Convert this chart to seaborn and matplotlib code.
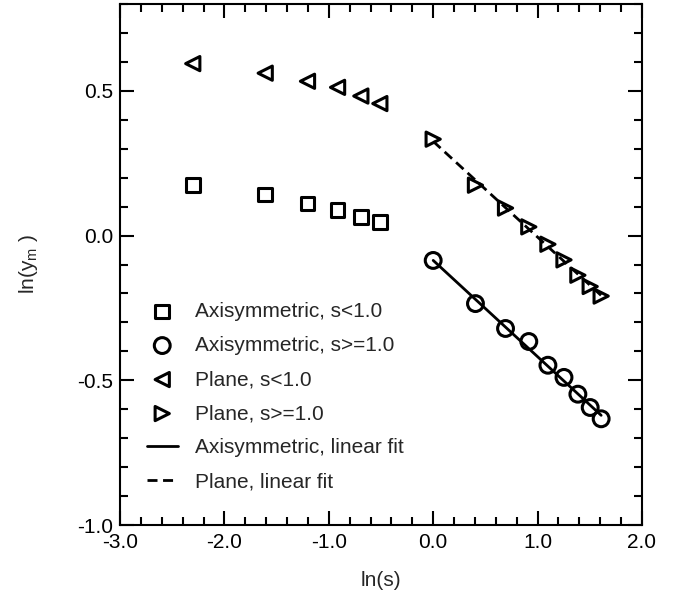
import numpy as np
import pandas as pd
import seaborn as sns
import matplotlib.pyplot as plt
from matplotlib.ticker import MultipleLocator, FormatStrFormatter

# ---- data ----
ln_s_small = [-2.303, -1.609, -1.204, -0.916, -0.693, -0.511]
ln_s_large = [0.0, 0.405, 0.693, 0.916, 1.099, 1.253, 1.386, 1.504, 1.609]

axi_small = [0.174, 0.142, 0.111, 0.089, 0.065, 0.046]
axi_large = [-0.086, -0.235, -0.321, -0.366, -0.448, -0.490, -0.548, -0.594, -0.633]
plane_small = [0.594, 0.561, 0.533, 0.512, 0.482, 0.456]
plane_large = [0.333, 0.174, 0.095, 0.030, -0.030, -0.084, -0.137, -0.176, -0.209]

sns.set_style("ticks")
plt.rcParams['font.family'] = ['Liberation Sans', 'DejaVu Sans']
plt.rcParams['axes.unicode_minus'] = False
plt.rcParams['mathtext.default'] = 'regular'

fig = plt.figure(figsize=(6.81, 5.95), dpi=100)
ax = fig.add_axes([0.1762, 0.1176, 0.7665, 0.8757])

df_small = pd.DataFrame({'ln_s': ln_s_small, 'axi': axi_small, 'plane': plane_small})
df_large = pd.DataFrame({'ln_s': ln_s_large, 'axi': axi_large, 'plane': plane_large})

mk = dict(facecolor='none', edgecolor='black', linewidth=2.2, zorder=3)
sns.scatterplot(data=df_small, x='ln_s', y='axi', marker='s', s=95, ax=ax,
                label='Axisymmetric, s<1.0', **mk)
sns.scatterplot(data=df_large, x='ln_s', y='axi', marker='o', s=130, ax=ax,
                label='Axisymmetric, s>=1.0', **mk)
sns.scatterplot(data=df_small, x='ln_s', y='plane', marker='<', s=105, ax=ax,
                label='Plane, s<1.0', **mk)
sns.scatterplot(data=df_large, x='ln_s', y='plane', marker='>', s=105, ax=ax,
                label='Plane, s>=1.0', **mk)

# linear fits through the s>=1 points
sns.regplot(data=df_large, x='ln_s', y='axi', ax=ax, scatter=False, ci=None,
            truncate=True, color='black', label='Axisymmetric, linear fit',
            line_kws=dict(lw=2.0))
sns.regplot(data=df_large, x='ln_s', y='plane', ax=ax, scatter=False, ci=None,
            truncate=True, color='black', label='Plane, linear fit',
            line_kws=dict(lw=2.0, ls=(0, (3.6, 2.0))))

ax.set_xlim(-3.0, 2.0)
ax.set_ylim(-1.0, 0.8)
ax.xaxis.set_major_locator(MultipleLocator(1.0))
ax.xaxis.set_minor_locator(MultipleLocator(0.2))
ax.yaxis.set_major_locator(MultipleLocator(0.5))
ax.yaxis.set_minor_locator(MultipleLocator(0.1))
ax.xaxis.set_major_formatter(FormatStrFormatter('%.1f'))
ax.yaxis.set_major_formatter(FormatStrFormatter('%.1f'))

ax.tick_params(which='both', direction='in', top=True, right=True,
               width=1.5, labelsize=15, colors='black')
ax.tick_params(which='major', length=10)
ax.tick_params(which='minor', length=5.5)
ax.tick_params(axis='x', pad=6)
ax.tick_params(axis='y', pad=5)
for sp in ax.spines.values():
    sp.set_linewidth(1.5)
    sp.set_color('black')

ax.set_xlabel('ln(s)', fontsize=15, labelpad=13.5)
ax.set_ylabel('ln(y$_m$ )', fontsize=15, labelpad=27)

ax.legend(frameon=False, fontsize=15, loc='upper left',
          bbox_to_anchor=(0.051, 0.428), handlelength=1.5, handletextpad=0.8,
          labelspacing=0.72, borderaxespad=0, borderpad=0)

fig.savefig('out.png', dpi=100)
